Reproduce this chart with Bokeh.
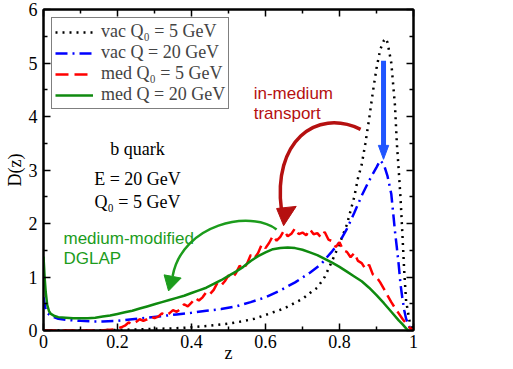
from bokeh.plotting import figure
from bokeh.models import Range1d, LinearAxis, FixedTicker, Label, CustomLabelingPolicy
from bokeh.embed import file_html
from bokeh.resources import INLINE

# ---------------- data ----------------
z_vac0 = [0.0, 0.1, 0.2, 0.3, 0.35, 0.4, 0.45, 0.5, 0.52, 0.55, 0.57, 0.6, 0.62, 0.65,
          0.68, 0.7, 0.72, 0.74, 0.76, 0.78, 0.8, 0.82, 0.84, 0.85, 0.86, 0.87, 0.88,
          0.89, 0.9, 0.91, 0.92, 0.925, 0.93, 0.94, 0.95, 0.955, 0.96, 0.965, 0.97,
          0.975, 0.98, 0.99, 1.0]
d_vac0 = [0.0, 0.0, 0.01, 0.03, 0.04, 0.06, 0.09, 0.13, 0.15, 0.19, 0.22, 0.29, 0.34, 0.41,
          0.52, 0.59, 0.7, 0.8, 1.0, 1.3, 1.62, 1.98, 2.5, 2.85, 3.1, 3.5, 3.95,
          4.45, 4.9, 5.25, 5.42, 5.46, 5.38, 5.0, 4.2, 3.5, 3.0, 2.47, 1.8,
          1.1, 0.55, 0.15, 0.0]

z_vac = [0.0, 0.005, 0.01, 0.02, 0.04, 0.06, 0.08, 0.1, 0.13, 0.16, 0.2, 0.24, 0.28, 0.32,
         0.36, 0.4, 0.44, 0.48, 0.52, 0.56, 0.6, 0.64, 0.68, 0.72, 0.75, 0.78, 0.8, 0.82,
         0.84, 0.86, 0.88, 0.9, 0.91, 0.92, 0.93, 0.94, 0.945, 0.95, 0.955, 0.96, 0.965,
         0.97, 0.975, 0.98, 0.99, 1.0]
d_vac = [0.62, 0.42, 0.33, 0.27, 0.22, 0.2, 0.19, 0.18, 0.17, 0.17, 0.18, 0.21, 0.24, 0.27,
         0.3, 0.33, 0.37, 0.4, 0.45, 0.53, 0.62, 0.75, 0.9, 1.08, 1.24, 1.48, 1.65, 1.9,
         2.2, 2.52, 2.8, 3.05, 3.18, 3.1, 2.88, 2.55, 2.2, 1.85, 1.55, 1.23, 0.86,
         0.6, 0.38, 0.22, 0.05, 0.0]

z_med0 = [0.0, 0.05, 0.1, 0.15, 0.19,
          0.20, 0.21, 0.22, 0.23, 0.24, 0.25, 0.26, 0.27, 0.28, 0.29,
          0.30, 0.31, 0.32, 0.33, 0.34, 0.35, 0.36, 0.37, 0.38, 0.39,
          0.40, 0.41, 0.42, 0.43, 0.44, 0.45, 0.46, 0.47, 0.48, 0.49,
          0.50, 0.51, 0.52, 0.53, 0.54, 0.55, 0.56, 0.57, 0.58, 0.59,
          0.60, 0.61, 0.62, 0.63, 0.64, 0.65, 0.66, 0.67, 0.68, 0.69,
          0.70, 0.71, 0.72, 0.73, 0.74, 0.75, 0.76, 0.77, 0.78, 0.79,
          0.80, 0.81, 0.82, 0.83, 0.84, 0.85, 0.86, 0.87, 0.88, 0.89,
          0.90, 0.91, 0.92, 0.93, 0.94, 0.95, 0.96, 0.97, 0.98, 0.99, 1.00]
d_med0 = [0.0, 0.0, 0.0, 0.0, 0.02,
          0.04, 0.06, 0.09, 0.15, 0.12, 0.16, 0.21, 0.18, 0.21, 0.26,
          0.23, 0.26, 0.32, 0.28, 0.32, 0.38, 0.35, 0.40, 0.49, 0.45,
          0.52, 0.61, 0.56, 0.62, 0.72, 0.68, 0.76, 0.89, 0.84, 0.92,
          1.03, 0.98, 1.07, 1.21, 1.15, 1.25, 1.41, 1.35, 1.45, 1.61,
          1.54, 1.64, 1.77, 1.68, 1.75, 1.87, 1.76, 1.81, 1.91, 1.80,
          1.83, 1.78, 1.89, 1.80, 1.82, 1.74, 1.84, 1.70, 1.67, 1.56,
          1.65, 1.50, 1.47, 1.37, 1.45, 1.30, 1.26, 1.15, 1.23, 1.05,
          1.00, 0.90, 0.78, 0.65, 0.53, 0.42, 0.32, 0.22, 0.13, 0.05, 0.00]

z_med = [0.0, 0.003, 0.006, 0.01, 0.015, 0.02, 0.03, 0.04, 0.06, 0.08, 0.1, 0.12, 0.14,
         0.16, 0.18, 0.2, 0.22, 0.24, 0.26, 0.28, 0.3, 0.32, 0.34, 0.36, 0.38, 0.4,
         0.42, 0.44, 0.46, 0.48, 0.5, 0.52, 0.54, 0.56, 0.58, 0.6, 0.62, 0.64, 0.66,
         0.68, 0.7, 0.72, 0.74, 0.76, 0.78, 0.8, 0.82, 0.84, 0.86, 0.88, 0.9, 0.92,
         0.94, 0.96, 0.97, 0.98, 0.985]
d_med = [1.38, 1.0, 0.72, 0.48, 0.36, 0.31, 0.27, 0.25, 0.24, 0.23, 0.23, 0.23, 0.24,
         0.26, 0.28, 0.31, 0.34, 0.37, 0.41, 0.45, 0.49, 0.53, 0.57, 0.61, 0.65, 0.7,
         0.75, 0.8, 0.87, 0.94, 1.02, 1.1, 1.19, 1.3, 1.39, 1.46, 1.52, 1.54, 1.55,
         1.54, 1.51, 1.46, 1.41, 1.34, 1.27, 1.19, 1.1, 1.01, 0.92, 0.8, 0.66, 0.51,
         0.35, 0.19, 0.12, 0.04, 0.0]

x_ticks = [0, 0.2, 0.4, 0.6, 0.8, 1.0]
x_tick_labels = ["0", "0.2", "0.4", "0.6", "0.8", "1"]
x_minor = [0.1, 0.3, 0.5, 0.7, 0.9]
y_ticks = [0, 1, 2, 3, 4, 5, 6]
y_tick_labels = ["0", "1", "2", "3", "4", "5", "6"]
y_minor = [0.5, 1.5, 2.5, 3.5, 4.5, 5.5]

x_title = "z"
y_title = "D(z)"
labels = ["vac Q\u2080 = 5 GeV", "vac Q = 20 GeV", "med Q\u2080 = 5 GeV", "med Q = 20 GeV"]

# annotation arrows (data coordinates)
red_arc = dict(x0=0.857, y0=3.76, cx0=0.735, cy0=4.17, cx1=0.619, cy1=3.52, x1=0.643, y1=2.26)
red_head_x = [0.649, 0.630, 0.683]
red_head_y = [1.96, 2.28, 2.32]
green_arc = dict(x0=0.630, y0=1.89, cx0=0.559, cy0=2.26, cx1=0.376, cy1=2.00, x1=0.349, y1=1.02)
green_head_x = [0.338, 0.326, 0.372]
green_head_y = [0.74, 1.04, 0.98]
blue_arrow_x = [0.919, 0.919]
blue_arrow_y = [5.04, 3.43]
blue_head_x = [0.919, 0.905, 0.933]
blue_head_y = [3.20, 3.46, 3.46]

SERIF = "Liberation Serif"
SANS = "Liberation Sans"
C_BLACK = "#000000"
C_BLUE = "#0000ff"
C_RED = "#ff0000"
C_GREEN = "#0f8a0f"
C_ARED = "#b51010"
C_AGREEN = "#1c9c1c"
C_ABLUE = "#1f55ff"

p = figure(width=513, height=369, output_backend="svg", toolbar_location=None,
           x_range=Range1d(0, 1), y_range=Range1d(0, 6),
           min_border_left=43, min_border_right=100, min_border_top=9, min_border_bottom=39,
           x_axis_location=None, y_axis_location=None)
p.background_fill_color = "white"
p.border_fill_color = "white"
p.outline_line_color = "black"
p.outline_line_width = 2
p.xgrid.visible = False
p.ygrid.visible = False

hide_labels = CustomLabelingPolicy(code="""
for (const i of indices) { indices.unset(i) }
return indices
""")


def style_axis(ax, ticks, minor, labels_, show):
    ax.ticker = FixedTicker(ticks=ticks, minor_ticks=minor)
    ax.axis_line_width = 2
    ax.major_tick_in = 7
    ax.major_tick_out = 0
    ax.minor_tick_in = 4
    ax.minor_tick_out = 0
    ax.major_tick_line_width = 1.5
    ax.minor_tick_line_width = 1.5
    ax.major_label_overrides = {t: l for t, l in zip(ticks, labels_)}
    ax.major_label_text_font = SERIF
    ax.major_label_text_color = "black"
    ax.axis_label_text_font = SERIF
    ax.axis_label_text_font_size = "18px"
    ax.axis_label_text_font_style = "normal"
    ax.axis_label_text_color = "black"
    if show:
        ax.major_label_text_font_size = "18px"
    else:
        ax.major_label_text_font_size = "0px"
        ax.major_label_policy = hide_labels
        ax.major_label_standoff = 0


xb = LinearAxis(axis_label=x_title)
style_axis(xb, x_ticks, x_minor, x_tick_labels, True)
xb.major_label_standoff = 4
xb.axis_label_standoff = -8
p.add_layout(xb, "below")
yl = LinearAxis(axis_label=y_title)
style_axis(yl, y_ticks, y_minor, y_tick_labels, True)
yl.major_label_standoff = 6
yl.axis_label_standoff = 1
p.add_layout(yl, "left")
xa = LinearAxis()
style_axis(xa, x_ticks, x_minor, x_tick_labels, False)
p.add_layout(xa, "above")
yr = LinearAxis()
style_axis(yr, y_ticks, y_minor, y_tick_labels, False)
p.add_layout(yr, "right")

# curves
p.line(z_vac0, d_vac0, line_color=C_BLACK, line_width=2.5, line_dash="2 5", legend_label=labels[0])
p.line(z_vac, d_vac, line_color=C_BLUE, line_width=2.5, line_dash="12 5 2 5", legend_label=labels[1])
p.line(z_med0, d_med0, line_color=C_RED, line_width=2.5, line_dash="13 6", legend_label=labels[2])
p.line(z_med, d_med, line_color=C_GREEN, line_width=2.5, legend_label=labels[3])

# arrows
p.bezier(x0=[red_arc["x0"]], y0=[red_arc["y0"]], x1=[red_arc["x1"]], y1=[red_arc["y1"]],
         cx0=[red_arc["cx0"]], cy0=[red_arc["cy0"]], cx1=[red_arc["cx1"]], cy1=[red_arc["cy1"]],
         line_color=C_ARED, line_width=3.5)
p.patch(red_head_x, red_head_y, fill_color=C_ARED, line_color=C_ARED)
p.bezier(x0=[green_arc["x0"]], y0=[green_arc["y0"]], x1=[green_arc["x1"]], y1=[green_arc["y1"]],
         cx0=[green_arc["cx0"]], cy0=[green_arc["cy0"]], cx1=[green_arc["cx1"]], cy1=[green_arc["cy1"]],
         line_color=C_AGREEN, line_width=2.5)
p.patch(green_head_x, green_head_y, fill_color=C_AGREEN, line_color=C_AGREEN)
p.line(blue_arrow_x, blue_arrow_y, line_color=C_ABLUE, line_width=5)
p.patch(blue_head_x, blue_head_y, fill_color=C_ABLUE, line_color=C_ABLUE)

# legend
lg = p.legend[0]
lg.location = "top_left"
lg.margin = 8
lg.padding = 3
lg.spacing = 0
lg.label_height = 20
lg.glyph_height = 20
lg.glyph_width = 38
lg.label_standoff = 8
lg.label_text_font = SERIF
lg.label_text_font_size = "18px"
lg.border_line_color = "black"
lg.border_line_width = 1.5
lg.background_fill_alpha = 1.0

# text annotations
def add_label(x, y, text, font, size, color, align="left"):
    p.add_layout(Label(x=x, y=y, text=text, text_font=font, text_font_size=size,
                       text_color=color, text_align=align, text_baseline="middle"))

add_label(0.254, 3.39, "b quark", SERIF, "18px", "black", "center")
add_label(0.254, 2.83, "E = 20 GeV", SERIF, "18px", "black", "center")
add_label(0.254, 2.40, "Q\u2080 = 5 GeV", SERIF, "18px", "black", "center")
add_label(0.054, 1.72, "medium-modified", SANS, "17px", C_AGREEN)
add_label(0.054, 1.35, "DGLAP", SANS, "17px", C_AGREEN)
add_label(0.568, 4.43, "in-medium", SANS, "17px", C_ARED)
add_label(0.568, 4.06, "transport", SANS, "17px", C_ARED)
add_label(1.027, 4.39, "vac DGLAP", SANS, "16px", C_ABLUE)

open("out.html", "w").write(file_html(p, INLINE))
